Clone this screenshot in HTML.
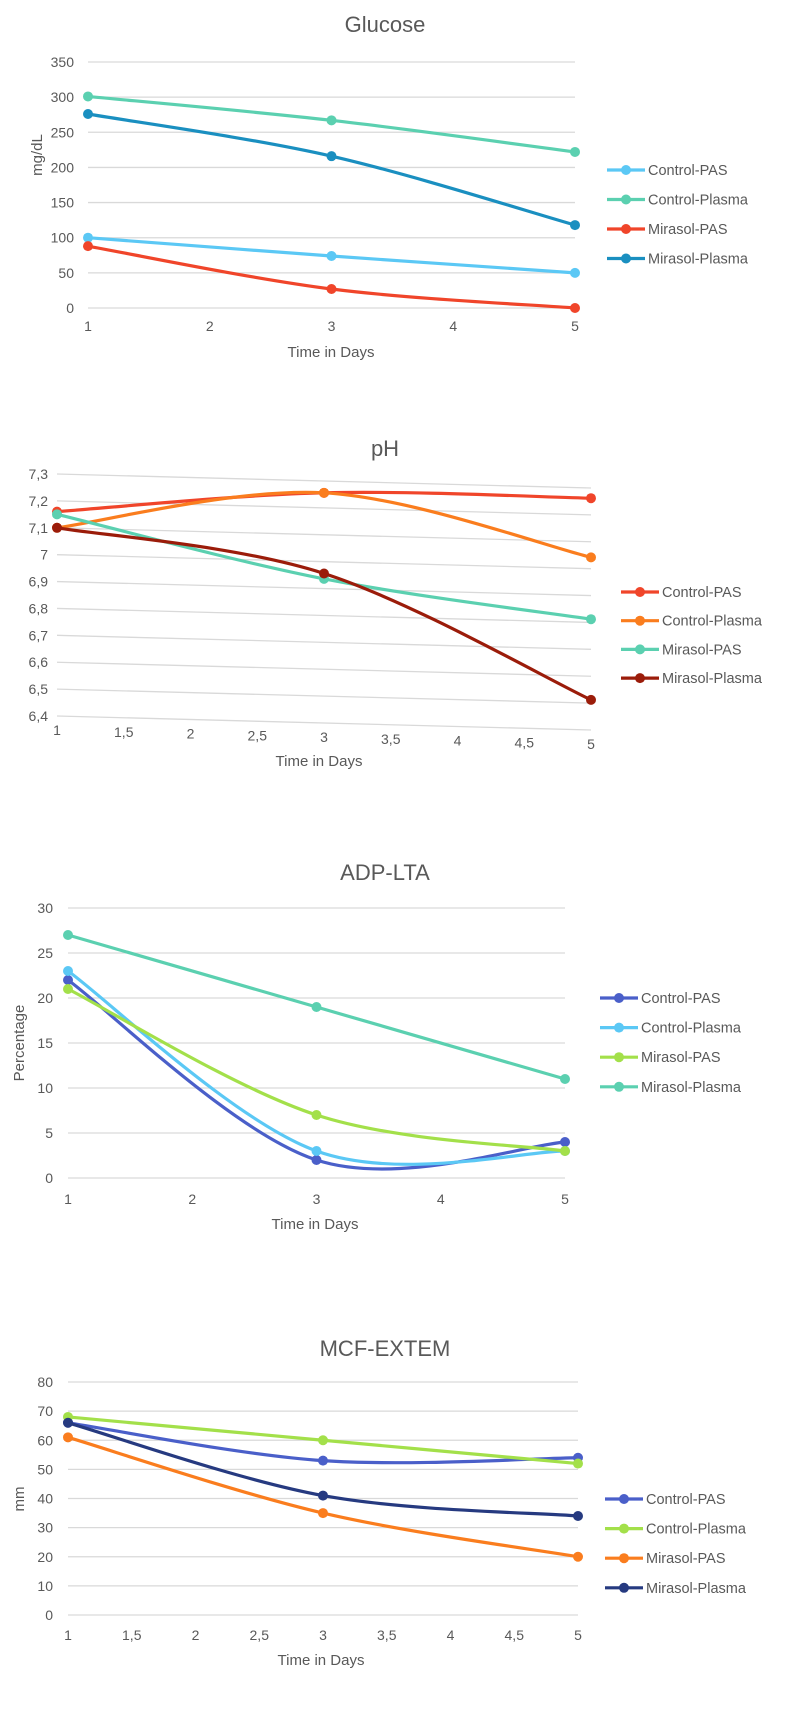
<!DOCTYPE html>
<html><head><meta charset="utf-8">
<style>
body{margin:0;background:#fff;}
svg{display:block;font-family:"Liberation Sans",Arial,sans-serif;}
</style></head>
<body>
<svg id="svg" width="800" height="1725" viewBox="0 0 800 1725"></svg>
<script>
const days = [1, 3, 5];
const seriesNames = ["Control-PAS", "Control-Plasma", "Mirasol-PAS", "Mirasol-Plasma"];
// Glucose
const glucoseCP = [100, 74, 50];
const glucoseCPl = [301, 267, 222];
const glucoseMP = [88, 27, 0];
const glucoseMPl = [276, 216, 118];
const glucoseYTicks = [0, 50, 100, 150, 200, 250, 300, 350];
const glucoseXTicks = [1, 2, 3, 4, 5];
// pH
const phCP = [7.16, 7.23, 7.21];
const phCPl = [7.10, 7.23, 6.99];
const phMP = [7.15, 6.91, 6.76];
const phMPl = [7.10, 6.93, 6.46];
const phYTicks = [6.4, 6.5, 6.6, 6.7, 6.8, 6.9, 7.0, 7.1, 7.2, 7.3];
const halfXTicks = [1, 1.5, 2, 2.5, 3, 3.5, 4, 4.5, 5];
// ADP-LTA
const adpCP = [22, 2, 4];
const adpCPl = [23, 3, 3];
const adpMP = [21, 7, 3];
const adpMPl = [27, 19, 11];
const adpYTicks = [0, 5, 10, 15, 20, 25, 30];
const adpXTicks = [1, 2, 3, 4, 5];
// MCF-EXTEM
const mcfCP = [66, 53, 54];
const mcfCPl = [68, 60, 52];
const mcfMP = [61, 35, 20];
const mcfMPl = [66, 41, 34];
const mcfYTicks = [0, 10, 20, 30, 40, 50, 60, 70, 80];

const NS = "http://www.w3.org/2000/svg";
const svg = document.getElementById("svg");
function mk(tag, attrs, parent, txt) {
  const e = document.createElementNS(NS, tag);
  for (const k in attrs) e.setAttribute(k, attrs[k]);
  if (txt !== undefined) e.textContent = txt;
  (parent || svg).appendChild(e);
  return e;
}
function fmt(v) { return String(Math.round(v * 10) / 10).replace(".", ","); }
function smooth(pts) {
  let d = "M" + pts[0][0] + "," + pts[0][1];
  for (let i = 0; i < pts.length - 1; i++) {
    const p0 = pts[i - 1] || pts[i], p1 = pts[i], p2 = pts[i + 1], p3 = pts[i + 2] || p2;
    const c1 = [p1[0] + (p2[0] - p0[0]) / 6, p1[1] + (p2[1] - p0[1]) / 6];
    const c2 = [p2[0] - (p3[0] - p1[0]) / 6, p2[1] - (p3[1] - p1[1]) / 6];
    d += " C" + c1 + " " + c2 + " " + p2;
  }
  return d;
}
function chart(cfg) {
  const g = mk("g", {});
  
  
  const xs = v => cfg.x0 + (v - cfg.xMin) / (cfg.xMax - cfg.xMin) * (cfg.x1 - cfg.x0);
  const ys = v => cfg.yBot + (v - cfg.yMin) / (cfg.yMax - cfg.yMin) * (cfg.yTop - cfg.yBot);
  const slant = cfg.slant || 0;
  const sl = x => slant * (x - cfg.x0) / (cfg.x1 - cfg.x0);
  const t = mk("text", {x: 385, y: cfg.titleY, "text-anchor": "middle", "font-size": 22, fill: "#595959"}, g, cfg.title);
  
  
  cfg.yTicks.forEach(v => {
    const y = ys(v);
    const l = mk("line", {x1: cfg.x0, y1: y, x2: cfg.x1, y2: y + slant, stroke: "#d9d9d9", "stroke-width": 1.3}, g);
    
    
    const tx = mk("text", {x: cfg.yLabX, y: y + 5, "text-anchor": "end", "font-size": 14, fill: "#595959"}, g, cfg.comma ? fmt(v) : String(v));
    
    
  });
  cfg.xTicks.forEach(v => {
    const x = xs(v);
    const tx = mk("text", {x: x, y: cfg.xLabY + sl(x), "text-anchor": "middle", "font-size": 14, fill: "#595959"}, g, cfg.comma ? fmt(v) : String(v));
    
    
  });
  const xt = mk("text", {x: cfg.xTitleX, y: cfg.xTitleY, "text-anchor": "middle", "font-size": 15, fill: "#595959"}, g, "Time in Days");
  
  
  if (cfg.yTitle) {
    const yt = mk("text", {x: cfg.yTitleX, y: cfg.yTitleY, "text-anchor": "middle", "font-size": 15, fill: "#595959", transform: "rotate(-90 " + cfg.yTitleX + " " + cfg.yTitleY + ")"}, g, cfg.yTitle);
    
    
  }
  cfg.series.forEach((vals, i) => {
    const pts = vals.map((v, j) => [xs(days[j]), ys(v)]);
    const p = mk("path", {d: smooth(pts), fill: "none", stroke: cfg.colors[i], "stroke-width": 3.2, "stroke-linecap": "round"}, g);
    
    
    pts.forEach(pt => {
      const c = mk("circle", {cx: pt[0], cy: pt[1], r: 5, fill: cfg.colors[i]}, g);
      
      
    });
    const ly = cfg.legY + i * cfg.legGap;
    const lg = mk("g", {}, g);
    
    
    mk("line", {x1: cfg.legX, y1: ly, x2: cfg.legX + 38, y2: ly, stroke: cfg.colors[i], "stroke-width": 3.2}, lg);
    mk("circle", {cx: cfg.legX + 19, cy: ly, r: 5, fill: cfg.colors[i]}, lg);
    mk("text", {x: cfg.legX + 41, y: ly + 5, "font-size": 14.5, fill: "#595959"}, lg, seriesNames[i]);
  });
}
chart({name: "glucose", title: "Glucose", titleY: 32, x0: 88, x1: 575, xMin: 1, xMax: 5, yMin: 0, yMax: 350, yBot: 308, yTop: 62,
  yTicks: glucoseYTicks, xTicks: glucoseXTicks, yLabX: 74, xLabY: 331, xTitleX: 331, xTitleY: 357, yTitle: "mg/dL", yTitleX: 42, yTitleY: 155,
  series: [glucoseCP, glucoseCPl, glucoseMP, glucoseMPl], colors: ["#5bc8f5", "#5bd0b0", "#f0452a", "#1a8fc0"], legX: 607, legY: 170, legGap: 29.5});
chart({name: "ph", title: "pH", titleY: 456, x0: 57, x1: 591, xMin: 1, xMax: 5, yMin: 6.4, yMax: 7.3, yBot: 716, yTop: 474, slant: 14, comma: true,
  yTicks: phYTicks, xTicks: halfXTicks, yLabX: 48, xLabY: 735, xTitleX: 319, xTitleY: 766,
  series: [phCP, phCPl, phMP, phMPl], colors: ["#f0452a", "#fa7d1e", "#5bd0b0", "#9b1c0a"], legX: 621, legY: 592, legGap: 28.7});
chart({name: "adp-lta", title: "ADP-LTA", titleY: 880, x0: 68, x1: 565, xMin: 1, xMax: 5, yMin: 0, yMax: 30, yBot: 1178, yTop: 908,
  yTicks: adpYTicks, xTicks: adpXTicks, yLabX: 53, xLabY: 1204, xTitleX: 315, xTitleY: 1229, yTitle: "Percentage", yTitleX: 24, yTitleY: 1043,
  series: [adpCP, adpCPl, adpMP, adpMPl], colors: ["#4a5fc9", "#5bc8f5", "#a3e04a", "#5bd0b0"], legX: 600, legY: 998, legGap: 29.6});
chart({name: "mcf-extem", title: "MCF-EXTEM", titleY: 1356, x0: 68, x1: 578, xMin: 1, xMax: 5, yMin: 0, yMax: 80, yBot: 1615, yTop: 1382, comma: true,
  yTicks: mcfYTicks, xTicks: halfXTicks, yLabX: 53, xLabY: 1640, xTitleX: 321, xTitleY: 1665, yTitle: "mm", yTitleX: 24, yTitleY: 1499,
  series: [mcfCP, mcfCPl, mcfMP, mcfMPl], colors: ["#4a5fc9", "#a3e04a", "#fa7d1e", "#263a80"], legX: 605, legY: 1499, legGap: 29.6});
</script>
</body></html>
